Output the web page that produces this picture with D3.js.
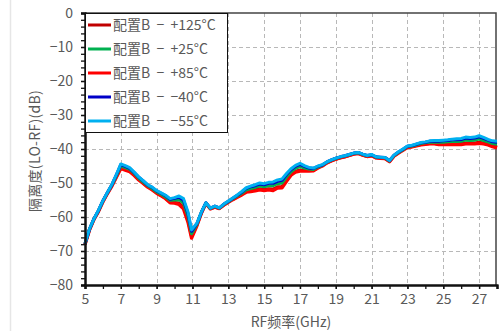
<!DOCTYPE html>
<html>
<head>
<meta charset="utf-8">
<script src="https://cdn.jsdelivr.net/npm/d3@7/dist/d3.min.js"></script>
<style>
  html, body { margin: 0; padding: 0; background: #fff; }
  svg { display: block; font-family: "Noto Sans CJK SC", "Noto Sans", sans-serif; }
</style>
</head>
<body>
<svg id="chart" width="499" height="331"></svg>
<script>
// RF frequency sweep points (GHz)
const freq = [
  5.00, 5.25, 5.50, 5.75, 6.00, 6.25, 6.50, 6.75, 7.00, 7.25,
  7.50, 7.75, 8.00, 8.25, 8.50, 8.75, 9.00, 9.25, 9.50, 9.75,
  10.00, 10.25, 10.50, 10.75, 10.95, 11.25, 11.50, 11.75, 12.00, 12.25,
  12.50, 12.75, 13.00, 13.25, 13.50, 13.75, 14.00, 14.25, 14.50, 14.75,
  15.00, 15.25, 15.50, 15.75, 16.00, 16.25, 16.50, 16.75, 17.00, 17.25,
  17.50, 17.75, 18.00, 18.25, 18.50, 18.75, 19.00, 19.25, 19.50, 19.75,
  20.00, 20.25, 20.50, 20.75, 21.00, 21.25, 21.50, 21.75, 22.00, 22.25,
  22.50, 22.75, 23.00, 23.25, 23.50, 23.75, 24.00, 24.25, 24.50, 24.75,
  25.00, 25.25, 25.50, 25.75, 26.00, 26.25, 26.50, 26.75, 27.00, 27.25,
  27.50, 27.75, 28.00
];

// LO-RF isolation (dB) per temperature, configuration B
const iso125 = [
  -68.1, -63.8, -60.7, -58.3, -55.5, -53.1, -50.8, -48.2, -45.5, -46.0,
  -46.5, -47.7, -49.0, -50.0, -51.1, -51.9, -52.9, -53.7, -54.5, -55.6,
  -55.7, -55.9, -57.1, -61.1, -65.8, -62.4, -58.8, -56.0, -57.6, -57.1,
  -57.5, -56.5, -55.6, -54.8, -54.1, -53.4, -52.5, -52.3, -52.0, -51.7,
  -51.9, -51.7, -51.8, -51.1, -51.0, -49.2, -47.4, -46.5, -46.2, -46.3,
  -46.3, -46.3, -45.5, -44.9, -44.1, -43.5, -43.0, -42.6, -42.3, -41.9,
  -41.5, -41.3, -41.8, -42.2, -41.9, -42.6, -42.7, -42.8, -43.7, -42.1,
  -41.1, -40.3, -39.4, -39.3, -39.0, -38.7, -38.5, -38.4, -38.4, -38.5,
  -38.5, -38.5, -38.5, -38.4, -38.4, -38.2, -38.2, -38.2, -38.0, -38.2,
  -38.6, -39.0, -39.4
];
const iso25 = [
  -67.9, -63.6, -60.6, -58.2, -55.3, -52.9, -50.6, -47.9, -45.0, -45.5,
  -46.0, -47.2, -48.6, -49.7, -50.8, -51.6, -52.6, -53.3, -54.1, -55.1,
  -55.0, -54.9, -55.9, -59.8, -64.9, -62.1, -58.6, -55.9, -57.5, -56.9,
  -57.4, -56.3, -55.5, -54.6, -53.8, -53.0, -52.0, -51.6, -51.3, -50.9,
  -51.1, -50.8, -50.8, -50.2, -50.0, -48.2, -46.7, -45.7, -45.2, -45.6,
  -45.9, -46.0, -45.3, -44.8, -43.9, -43.3, -42.8, -42.4, -42.1, -41.7,
  -41.3, -41.1, -41.6, -42.0, -41.8, -42.4, -42.5, -42.6, -43.5, -41.9,
  -41.0, -40.2, -39.3, -39.1, -38.8, -38.4, -38.2, -38.0, -38.0, -38.0,
  -38.0, -37.9, -37.8, -37.8, -37.7, -37.4, -37.5, -37.4, -37.1, -37.5,
  -37.9, -38.4, -38.6
];
const iso85 = [
  -68.1, -63.8, -60.7, -58.4, -55.5, -53.1, -50.9, -48.3, -45.7, -46.2,
  -46.7, -47.8, -49.1, -50.1, -51.2, -52.0, -53.0, -53.8, -54.6, -55.8,
  -55.9, -56.3, -57.6, -61.5, -66.2, -62.5, -58.8, -56.0, -57.6, -57.1,
  -57.5, -56.5, -55.7, -54.9, -54.2, -53.5, -52.7, -52.5, -52.3, -52.0,
  -52.2, -52.0, -52.2, -51.5, -51.4, -49.5, -47.7, -46.8, -46.5, -46.5,
  -46.5, -46.4, -45.6, -45.0, -44.1, -43.5, -43.0, -42.6, -42.3, -41.9,
  -41.5, -41.3, -41.8, -42.2, -42.0, -42.6, -42.7, -42.8, -43.7, -42.1,
  -41.2, -40.4, -39.5, -39.4, -39.1, -38.8, -38.6, -38.5, -38.5, -38.7,
  -38.7, -38.7, -38.7, -38.7, -38.7, -38.5, -38.5, -38.5, -38.3, -38.5,
  -38.8, -39.3, -39.7
];
const isoM40 = [
  -67.9, -63.6, -60.5, -58.1, -55.2, -52.8, -50.5, -47.6, -44.6, -45.1,
  -45.7, -47.0, -48.3, -49.4, -50.6, -51.3, -52.3, -53.0, -53.7, -54.8,
  -54.5, -54.2, -55.1, -59.0, -64.2, -61.9, -58.6, -55.8, -57.4, -56.8,
  -57.3, -56.2, -55.4, -54.5, -53.6, -52.7, -51.6, -51.1, -50.8, -50.3,
  -50.5, -50.1, -50.1, -49.5, -49.2, -47.5, -46.1, -45.1, -44.5, -45.1,
  -45.6, -45.7, -45.1, -44.7, -43.8, -43.2, -42.7, -42.3, -42.0, -41.6,
  -41.2, -41.0, -41.5, -41.9, -41.7, -42.3, -42.4, -42.5, -43.4, -41.8,
  -40.9, -40.1, -39.2, -39.0, -38.6, -38.2, -38.0, -37.7, -37.7, -37.7,
  -37.6, -37.5, -37.3, -37.3, -37.2, -36.8, -36.9, -36.8, -36.4, -36.9,
  -37.4, -37.9, -38.0
];
const isoM55 = [
  -67.8, -63.5, -60.5, -58.0, -55.2, -52.8, -50.4, -47.5, -44.4, -44.9,
  -45.5, -46.8, -48.2, -49.3, -50.5, -51.2, -52.2, -52.9, -53.6, -54.6,
  -54.3, -53.8, -54.6, -58.5, -63.8, -61.8, -58.5, -55.8, -57.4, -56.8,
  -57.3, -56.2, -55.3, -54.4, -53.5, -52.5, -51.4, -50.9, -50.5, -50.0,
  -50.2, -49.8, -49.7, -49.1, -48.8, -47.2, -45.8, -44.8, -44.2, -44.9,
  -45.4, -45.6, -45.0, -44.6, -43.8, -43.2, -42.7, -42.3, -42.0, -41.6,
  -41.2, -41.0, -41.5, -41.9, -41.6, -42.3, -42.4, -42.5, -43.4, -41.8,
  -40.8, -40.0, -39.1, -38.9, -38.5, -38.1, -37.9, -37.6, -37.5, -37.5,
  -37.4, -37.3, -37.1, -37.0, -36.9, -36.5, -36.6, -36.5, -36.1, -36.6,
  -37.2, -37.6, -37.7
];

const seriesNames = ["配置B  −  +125°C", "配置B  −  +25°C", "配置B  −  +85°C", "配置B  −  −40°C", "配置B  −  −55°C"];
const seriesValues = [iso125, iso25, iso85, isoM40, isoM55];
const seriesColors = ["#c00000", "#00b050", "#ff0000", "#0000c8", "#00b0f0"];
// drawing order: hottest curves underneath, coldest on top
const drawOrder = [0, 2, 1, 3, 4];

const xTicks = [5, 7, 9, 11, 13, 15, 17, 19, 21, 23, 25, 27];
const yTicks = [0, -10, -20, -30, -40, -50, -60, -70, -80];
const xLabel = "RF频率(GHz)";
const yLabel = "隔离度(LO-RF)(dB)";

const svg = d3.select("#chart");
const W = 499, H = 331;
const m = { left: 85, right: 2, top: 13, bottom: 46 };
const x = d3.scaleLinear().domain([5, 28]).range([m.left, W - m.right]);
const y = d3.scaleLinear().domain([-80, 0]).range([H - m.bottom, m.top]);

const textColor = "#595959";

// faint page rule on the left
svg.append("line")
  .attr("x1", 10.5).attr("x2", 10.5).attr("y1", 0).attr("y2", H)
  .attr("stroke", "#e6e6e6").attr("stroke-width", 1.5);

// grid
const grid = svg.append("g").attr("stroke", "#b8b8b8").attr("stroke-width", 1)
  .attr("stroke-dasharray", "4,3");
grid.selectAll(".vg").data(xTicks.filter(d => d > 5)).join("line")
  .attr("x1", d => Math.round(x(d)) + 0.5).attr("x2", d => Math.round(x(d)) + 0.5)
  .attr("y1", y(0)).attr("y2", y(-80));
grid.selectAll(".hg").data(yTicks.filter(d => d < 0 && d > -80)).join("line")
  .attr("y1", d => Math.round(y(d)) + 0.5).attr("y2", d => Math.round(y(d)) + 0.5)
  .attr("x1", x(5)).attr("x2", x(28));

// frame top and right
svg.append("path")
  .attr("d", `M${x(5)},${y(0)}H${x(28) - 1}V${y(-80)}`)
  .attr("fill", "none").attr("stroke", "#444").attr("stroke-width", 1.5);

// curves
const line = d3.line().x((d, i) => x(freq[i])).y(d => y(d));
const curves = svg.append("g");
drawOrder.forEach(k => {
  curves.append("path")
    .datum(seriesValues[k])
    .attr("d", line)
    .attr("fill", "none")
    .attr("stroke", seriesColors[k])
    .attr("stroke-width", k === 2 ? 3.4 : 3)
    .attr("stroke-linejoin", "round");
});

// axes
const fmt = d => (d < 0 ? "−" + Math.abs(d) : String(d));
const yAxis = svg.append("g").attr("transform", `translate(${x(5)},0)`)
  .call(d3.axisLeft(y).tickValues(d3.range(-80, 1, 2)).tickSize(4).tickFormat(""));
const yAxisLab = svg.append("g").attr("transform", `translate(${x(5)},0)`)
  .call(d3.axisLeft(y).tickValues(yTicks).tickSize(4).tickPadding(8).tickFormat(fmt));
const xAxis = svg.append("g").attr("transform", `translate(0,${y(-80)})`)
  .call(d3.axisBottom(x).tickValues(d3.range(5, 29, 1)).tickSize(4).tickFormat(""));
const xAxisLab = svg.append("g").attr("transform", `translate(0,${y(-80)})`)
  .call(d3.axisBottom(x).tickValues(xTicks).tickSize(4).tickPadding(5).tickFormat(d => d));

[yAxis, yAxisLab, xAxis, xAxisLab].forEach(g => {
  g.select(".domain").attr("stroke", "#111").attr("stroke-width", 2);
  g.selectAll(".tick line").attr("stroke", "#111").attr("stroke-width", 1.3);
  g.selectAll(".tick text").attr("fill", textColor)
    .style("font-size", "14px")
    .style("font-family", "'Noto Sans CJK SC', 'Noto Sans', sans-serif");
});

// axis titles
svg.append("text")
  .attr("x", (x(5) + x(28)) / 2).attr("y", 327)
  .attr("text-anchor", "middle").attr("fill", textColor)
  .style("font-size", "14px").text(xLabel);
svg.append("text")
  .attr("transform", `translate(40,${(y(0) + y(-80)) / 2 + 2}) rotate(-90)`)
  .attr("text-anchor", "middle").attr("fill", textColor)
  .style("font-size", "14px").style("letter-spacing", "0.3px").text(yLabel);

// legend
const leg = svg.append("g");
leg.append("rect")
  .attr("x", x(5) + 0.5).attr("y", y(0) + 0.5).attr("width", 142).attr("height", 119)
  .attr("fill", "#fff").attr("stroke", "#111").attr("stroke-width", 1);
seriesNames.forEach((name, i) => {
  const cy = 25 + i * 24;
  leg.append("line")
    .attr("x1", 88).attr("x2", 111).attr("y1", cy).attr("y2", cy)
    .attr("stroke", seriesColors[i]).attr("stroke-width", 3);
  leg.append("text")
    .attr("x", 113).attr("y", cy + 5)
    .attr("fill", textColor).style("font-size", "14px")
    .style("white-space", "pre")
    .text(name);
});
</script>
</body>
</html>
